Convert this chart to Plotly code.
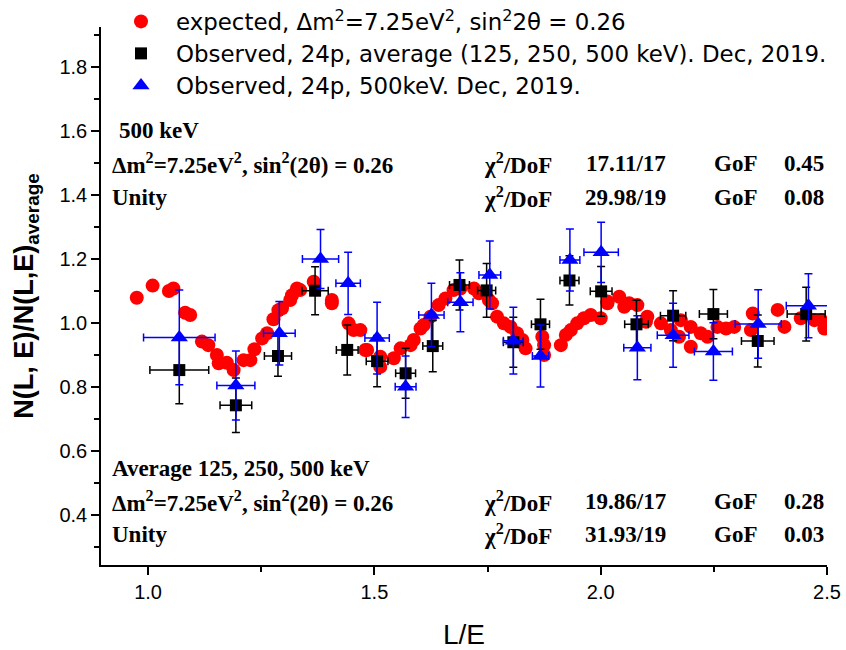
import plotly.graph_objects as go

# ---------------- data ----------------
exp_L = [0.975, 1.010, 1.046, 1.056, 1.082, 1.093, 1.119, 1.133, 1.152, 1.156,
         1.174, 1.189, 1.211, 1.226, 1.235, 1.252, 1.263, 1.277, 1.288, 1.296,
         1.314, 1.318, 1.329, 1.336, 1.366, 1.406, 1.406, 1.443, 1.454, 1.469,
         1.480, 1.484, 1.513, 1.513, 1.543, 1.558, 1.580, 1.587, 1.602, 1.609,
         1.624, 1.642, 1.657, 1.675, 1.690, 1.720, 1.731, 1.753, 1.760, 1.771,
         1.786, 1.801, 1.815, 1.827, 1.834, 1.871, 1.875, 1.875, 1.912, 1.923,
         1.934, 1.948, 1.963, 1.978, 2.000, 2.015, 2.015, 2.041, 2.052, 2.063,
         2.081, 2.100, 2.103, 2.133, 2.155, 2.173, 2.177, 2.199, 2.199, 2.221,
         2.236, 2.258, 2.277, 2.295, 2.332, 2.336, 2.391, 2.406, 2.442, 2.472,
         2.487, 2.494]
exp_R = [1.079, 1.117, 1.100, 1.108, 1.032, 1.025, 0.942, 0.931, 0.900, 0.874,
         0.876, 0.853, 0.884, 0.884, 0.918, 0.952, 0.968, 1.012, 1.040, 1.046,
         1.072, 1.087, 1.108, 1.103, 1.129, 1.072, 1.062, 0.999, 0.978, 0.978,
         0.916, 0.916, 0.895, 0.863, 0.890, 0.921, 0.931, 0.947, 0.983, 0.994,
         1.020, 1.056, 1.077, 1.103, 1.108, 1.108, 1.093, 1.072, 1.062, 1.020,
         0.999, 0.988, 0.968, 0.947, 0.921, 0.957, 0.931, 0.900, 0.931, 0.963,
         0.978, 0.999, 1.015, 1.025, 1.015, 1.062, 1.067, 1.082, 1.051, 1.062,
         1.056, 1.004, 1.020, 0.999, 0.978, 0.957, 1.009, 0.926, 0.988, 0.968,
         0.957, 0.988, 0.983, 0.988, 0.978, 1.030, 1.041, 0.988, 1.015, 1.009,
         1.009, 0.983]

avg_L = [1.069, 1.194, 1.287, 1.369, 1.440, 1.506, 1.569, 1.629, 1.688, 1.748,
         1.807, 1.867, 1.931, 2.001, 2.079, 2.160, 2.249, 2.347, 2.454]
avg_R = [0.853, 0.743, 0.897, 1.101, 0.916, 0.881, 0.843, 0.928, 1.119, 1.102,
         0.940, 0.996, 1.133, 1.099, 0.996, 1.023, 1.028, 0.944, 1.028]
avg_dL = [0.065, 0.035, 0.030, 0.029, 0.024, 0.024, 0.022, 0.022, 0.022, 0.020,
          0.022, 0.020, 0.021, 0.024, 0.026, 0.028, 0.031, 0.036, 0.042]
avg_dR = [0.105, 0.085, 0.063, 0.075, 0.078, 0.080, 0.078, 0.080, 0.078, 0.084,
          0.078, 0.078, 0.077, 0.078, 0.075, 0.078, 0.077, 0.081, 0.084]

k500_L = [1.069, 1.194, 1.290, 1.381, 1.442, 1.506, 1.569, 1.626, 1.690, 1.755,
          1.807, 1.867, 1.932, 2.001, 2.081, 2.160, 2.249, 2.348, 2.459]
k500_R = [0.955, 0.805, 0.968, 1.200, 1.124, 0.953, 0.801, 1.025, 1.065, 1.150,
          0.945, 0.897, 1.197, 1.221, 0.923, 0.962, 0.911, 0.997, 1.054]
k500_dL = [0.079, 0.042, 0.035, 0.040, 0.027, 0.027, 0.023, 0.028, 0.028, 0.024,
           0.022, 0.018, 0.022, 0.038, 0.030, 0.035, 0.042, 0.051, 0.049]
k500_dR = [0.148, 0.108, 0.099, 0.092, 0.097, 0.112, 0.096, 0.099, 0.092, 0.106,
           0.104, 0.097, 0.097, 0.094, 0.100, 0.100, 0.090, 0.107, 0.100]

x_ticks = [1.0, 1.5, 2.0, 2.5]
x_ticktext = ["1.0", "1.5", "2.0", "2.5"]

# ---------------- geometry (body margin removed by post_script) ----------------
W, H = 846, 650
L_M, R_M, T_M, B_M = 101, 19, 27, 85
PW, PH = W - L_M - R_M, H - T_M - B_M


def px(x):
    return (x - L_M) / PW


def py(y):
    return (H - B_M - y) / PH


# ---------------- figure ----------------
fig = go.Figure()

fig.add_trace(go.Scatter(
    x=exp_L, y=exp_R, mode="markers",
    name="expected, \u0394m<sup>2</sup>=7.25eV<sup>2</sup>, sin<sup>2</sup>2\u03b8 = 0.26",
    marker=dict(symbol="circle", size=14, color="#ff0000", line=dict(width=0)),
    legend="legend",
))
fig.add_trace(go.Scatter(
    x=avg_L, y=avg_R, mode="markers",
    name="Observed, 24p, average (125, 250, 500 keV). Dec, 2019.",
    marker=dict(symbol="square", size=12, color="#000000", line=dict(width=0)),
    error_x=dict(type="data", array=avg_dL, color="#000000", thickness=1.5, width=4),
    error_y=dict(type="data", array=avg_dR, color="#000000", thickness=1.5, width=4),
    legend="legend2",
))
fig.add_trace(go.Scatter(
    x=k500_L, y=k500_R, mode="markers",
    name="Observed, 24p, 500keV. Dec, 2019.",
    marker=dict(symbol="triangle-up", size=15, color="#0000ff", line=dict(width=0)),
    error_x=dict(type="data", array=k500_dL, color="#0000ff", thickness=1.5, width=4),
    error_y=dict(type="data", array=k500_dR, color="#0000ff", thickness=1.5, width=4),
    legend="legend3",
))

ann_font = dict(family="Liberation Serif", size=23, color="black", weight="bold")
annotations = []


def add(text, x, y, anchor="left"):
    annotations.append(dict(text=text, x=px(x), y=py(y), xref="paper", yref="paper",
                            xanchor=anchor, yanchor="middle", showarrow=False,
                            font=ann_font))


dm = "\u0394m<sup>2</sup>=7.25eV<sup>2</sup>, sin<sup>2</sup>(2\u03b8) = 0.26"
chi = "\u03c7<sup>2</sup>/DoF"

add("500 keV", 117, 131)
add(dm, 110, 163)
add("Unity", 110, 197)
add(chi, 482, 163)
add(chi, 482, 197)
add("17.11/17", 668, 163, "right")
add("29.98/19", 668, 197, "right")
add("GoF", 712, 163)
add("GoF", 712, 197)
add("0.45", 826, 163, "right")
add("0.08", 826, 197, "right")

add("Average 125, 250, 500 keV", 110, 468)
add(dm, 110, 501)
add("Unity", 110, 534)
add(chi, 482, 501)
add(chi, 482, 534)
add("19.86/17", 668, 501, "right")
add("31.93/19", 668, 534, "right")
add("GoF", 712, 501)
add("GoF", 712, 534)
add("0.28", 826, 501, "right")
add("0.03", 826, 534, "right")


def leg(top):
    return dict(x=px(106), y=py(top), xanchor="left", yanchor="top",
                xref="paper", yref="paper",
                font=dict(family="DejaVu Sans", size=22.9, color="black"),
                bgcolor="rgba(0,0,0,0)", borderwidth=0, itemwidth=60)


fig.update_layout(
    width=W, height=H,
    margin=dict(l=L_M, r=R_M, t=T_M, b=B_M, pad=0, autoexpand=False),
    paper_bgcolor="white", plot_bgcolor="white",
    font=dict(family="Liberation Sans", color="black"),
    showlegend=True,
    legend=leg(0),
    legend2=leg(32),
    legend3=leg(64),
    annotations=annotations,
)

fig.update_xaxes(
    range=[0.896, 2.5], showline=True, linecolor="black", linewidth=1.5,
    mirror=False, showgrid=False, zeroline=False,
    tickmode="array", tickvals=x_ticks, ticktext=x_ticktext,
    ticks="outside", ticklen=8, tickwidth=1.5, tickcolor="black",
    tickfont=dict(family="Liberation Sans", size=20),
    minor=dict(dtick=0.25, tick0=0, ticks="outside", ticklen=5, tickwidth=1.5,
               tickcolor="black", showgrid=False),
    title=dict(text="L/E", font=dict(family="Liberation Sans", size=28), standoff=23),
)
fig.update_yaxes(
    range=[0.244, 1.925], showline=True, linecolor="black", linewidth=1.5,
    mirror=False, showgrid=False, zeroline=False,
    tick0=0, dtick=0.2, tickformat=".1f",
    ticks="outside", ticklen=8, tickwidth=1.5, tickcolor="black",
    tickfont=dict(family="Liberation Sans", size=20),
    minor=dict(dtick=0.1, tick0=0, ticks="outside", ticklen=5, tickwidth=1.5,
               tickcolor="black", showgrid=False),
    title=dict(text="N(L, E)/N(L,E)<sub>average</sub>",
               font=dict(family="Liberation Sans", size=27, weight="bold"), standoff=18),
)

fig.write_html(
    "out.html",
    config={"displayModeBar": False},
    post_script="document.body.style.margin='0';"
                "document.documentElement.style.overflow='hidden';"
                "document.body.style.overflow='hidden';",
)
